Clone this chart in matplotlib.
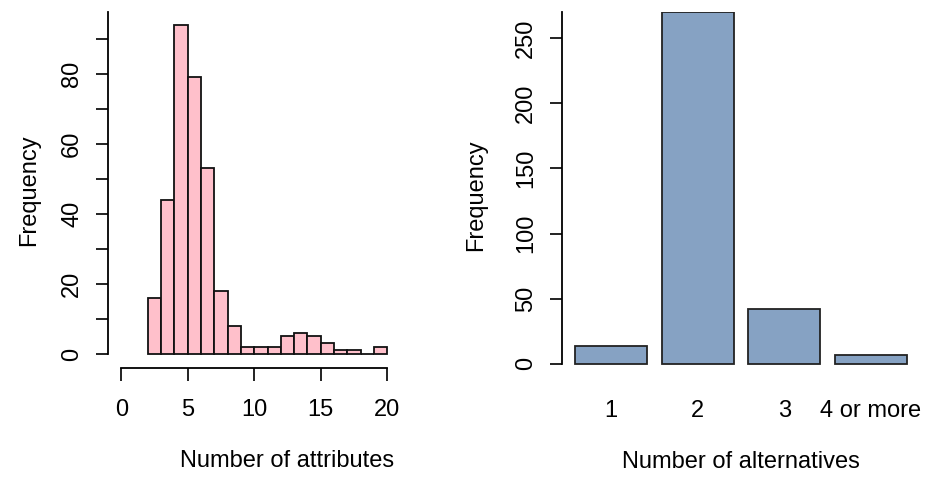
import numpy as np
import matplotlib
matplotlib.use("Agg")
import matplotlib.pyplot as plt

plt.rcParams["font.family"] = ["Liberation Sans", "DejaVu Sans"]

# attributes histogram (bins of width 1 from 2 to 20)
attr_edges = np.arange(2, 21)
attr_counts = [16, 44, 94, 79, 53, 18, 8, 2, 2, 2, 5, 6, 5, 3, 1, 1, 0, 2]

# alternatives bar chart
alt_labels = ["1", "2", "3", "4 or more"]
alt_counts = [14, 270, 42, 7]

W, H = 930, 478
FS = 17
LW = 1.3


def px_axes(fig, x0, y0, x1, y1):
    # pixel box (top-left origin) -> figure fraction
    return fig.add_axes([x0 / W, (H - y1) / H, (x1 - x0) / W, (y1 - y0) / H])


fig = plt.figure(figsize=(W / 100, H / 100), dpi=100, facecolor="white")

# ---- left: histogram
ax1 = px_axes(fig, 108, 12, 467, 368)
ax1.bar(attr_edges[:-1], attr_counts, width=1, align="edge",
        color="#FFC0CB", edgecolor="#111111", linewidth=LW)
ax1.set_xlim(-1, 26)
ax1.set_ylim(-4, 97.7)
for s in ["top", "right"]:
    ax1.spines[s].set_visible(False)
ax1.spines["bottom"].set_bounds(0, 20)
ax1.spines["left"].set_bounds(0, 97.7)
ax1.spines["left"].set_linewidth(LW)
ax1.spines["bottom"].set_linewidth(LW)
ax1.set_xticks([0, 5, 10, 15, 20])
ax1.set_yticks(np.arange(0, 100, 10))
ax1.set_yticklabels([str(v) if v % 20 == 0 else "" for v in range(0, 100, 10)],
                    rotation=90, va="center")
ax1.tick_params(axis="both", direction="out", length=9, width=LW,
                labelsize=FS, color="#111111")
ax1.tick_params(axis="x", pad=13)
ax1.tick_params(axis="y", pad=9)
ax1.set_xlabel("Number of attributes", fontsize=FS, labelpad=21)
ax1.set_ylabel("Frequency", fontsize=FS, labelpad=15)

# ---- right: bar chart
ax2 = px_axes(fig, 562, 12, 920, 378)
xpos = 0.2 + 1.2 * np.arange(len(alt_counts)) + 0.5
ax2.bar(xpos, alt_counts, width=1, color="#86A2C3", edgecolor="#222222", linewidth=LW)
ax2.set_xlim(0.016, 4.984)
ax2.set_ylim(-10.8, 270)
for s in ["top", "right", "bottom"]:
    ax2.spines[s].set_visible(False)
ax2.spines["left"].set_bounds(0, 270)
ax2.spines["left"].set_linewidth(LW)
ax2.set_xticks(xpos)
ax2.set_xticklabels(alt_labels)
ax2.set_yticks(np.arange(0, 300, 50))
ax2.set_yticklabels([str(v) for v in range(0, 300, 50)], rotation=90, va="center")
ax2.tick_params(axis="x", length=0, labelsize=FS, pad=16)
ax2.tick_params(axis="y", direction="out", length=9, width=LW, labelsize=FS,
                pad=9, color="#111111")
ax2.set_xlabel("Number of alternatives", fontsize=FS, labelpad=21)
ax2.set_ylabel("Frequency", fontsize=FS, labelpad=20)

fig.savefig("out.png", dpi=100, facecolor="white")
